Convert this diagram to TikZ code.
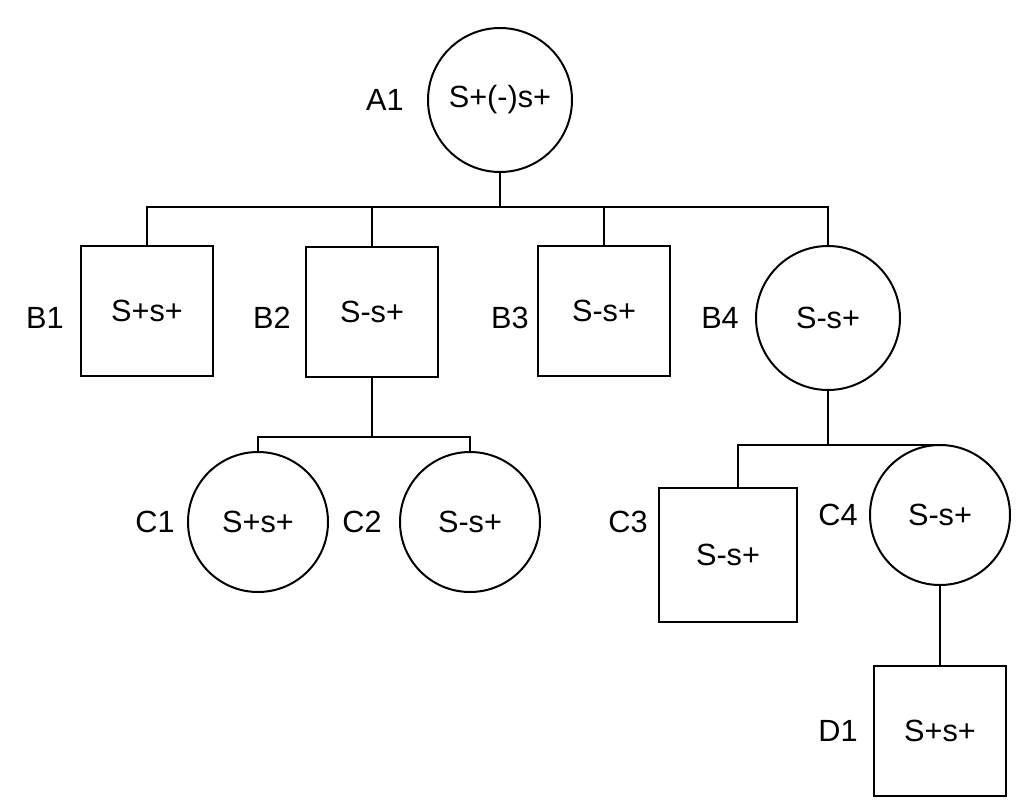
\documentclass[tikz,border=0pt]{standalone}
\usepackage{fontspec}
\setmainfont{Liberation Sans}
\begin{document}
\begin{tikzpicture}[x=0.75pt,y=-0.75pt,
  every node/.style={font=\fontsize{23}{26}\selectfont, inner sep=0pt},
  sq/.style={draw, line width=1.5pt, minimum width=99pt, minimum height=97pt},
  ci/.style={draw, line width=1.5pt, circle, minimum size=#1},
  ci/.default=106pt,
  ln/.style={line width=1.5pt}]
\useasboundingbox (0,0) rectangle (1033,800);
\node[ci=108pt] (A1) at (500,100) {S+(-)s+};
\node (lA1) at (385,100) {A1};
\node[sq] (B1) at (147,311) {S+s+};
\node (lB1) at (45,318) {B1};
\node[sq] (B2) at (372,312) {S-s+};
\node (lB2) at (272,318) {B2};
\node[sq] (B3) at (604,311) {S-s+};
\node (lB3) at (510,318) {B3};
\node[ci=108pt] (B4) at (828,318) {S-s+};
\node (lB4) at (720,318) {B4};
\node[ci=105pt] (C1) at (258,522) {S+s+};
\node (lC1) at (155,522) {C1};
\node[ci=105pt] (C2) at (470,522) {S-s+};
\node (lC2) at (362,522) {C2};
\node[sq, minimum width=103pt, minimum height=100pt] (C3) at (728,555) {S-s+};
\node (lC3) at (628,522) {C3};
\node[ci=105pt] (C4) at (940,515) {S-s+};
\node (lC4) at (838,515) {C4};
\node[sq] (D1) at (940,731) {S+s+};
\node (lD1) at (838,731) {D1};
\coordinate (h1) at (500,207);
\coordinate (h2) at (372,437);
\coordinate (h3) at (828,445);
\draw[ln] (A1.south) -- (h1);
\draw[ln] (B1.north) -- (B1.north |- h1) -- (B4.north |- h1) -- (B4.north);
\draw[ln] (B2.north) -- (B2.north |- h1);
\draw[ln] (B3.north) -- (B3.north |- h1);
\draw[ln] (B2.south) -- (h2);
\draw[ln] (C1.north) -- (C1.north |- h2) -- (C2.north |- h2) -- (C2.north);
\draw[ln] (B4.south) -- (h3);
\draw[ln] (738,488) -- (738,445) -- (C4.north |- h3) -- (C4.north);
\draw[ln] (C4.south) -- (D1.north);
\end{tikzpicture}
\end{document}
